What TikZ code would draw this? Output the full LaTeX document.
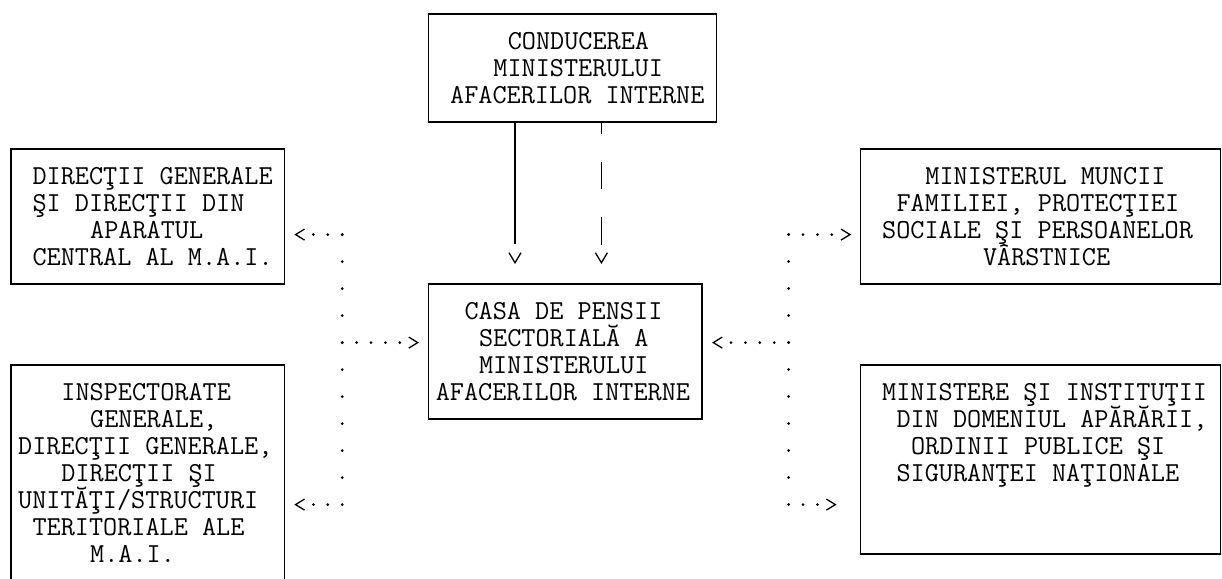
\documentclass[tikz,border=0pt]{standalone}
\usepackage{fontspec}
\usetikzlibrary{arrows.meta}
\tikzset{
  txt/.style={anchor=base west, inner sep=0pt, outer sep=0pt, yshift=-8pt,
    font=\ttfamily\fontsize{27.43}{27}\selectfont},
  box/.style={draw, line width=1.6pt, inner sep=0pt, outer sep=0pt},
  hdots/.style={line width=3pt, line cap=round,
    -{Straight Barb[length=9pt,width=11pt,line width=1.3pt 0]}},
  vbus/.style={line width=3pt, line cap=round, dash pattern=on 0pt off 27pt},
  dthree/.style={dash pattern=on 0pt off 14.4pt on 0pt off 14.4pt on 0pt off 400pt},
  dfour/.style={dash pattern=on 0pt off 14.4pt on 0pt off 14.4pt on 0pt off 14.4pt on 0pt off 400pt},
  dfive/.style={dash pattern=on 0pt off 14.4pt on 0pt off 14.4pt on 0pt off 14.4pt on 0pt off 14.4pt on 0pt off 400pt},
  vconn/.style={line width=1.6pt, shorten >=20pt,
    -{Straight Barb[length=10pt,width=12pt,line width=1.3pt 0]}},
}
\newcommand\txtline[4]{\node[txt] (#1) at ({#2-0.5},#3) {#4};}
\begin{document}
\begin{tikzpicture}[x=14.4pt,y=-27pt]
\useasboundingbox (0pt,0pt) rectangle (1222pt,-578pt);
\clip (0pt,0pt) rectangle (1222pt,-578pt);
\begin{scope}[xshift=11pt,yshift=-14pt]
% boxes
\node[box, minimum width=288pt, minimum height=108pt] (cmai) at (39,2) {};
\node[box, minimum width=273.6pt, minimum height=135pt] (dg) at (9.5,7.5) {};
\node[box, minimum width=273.6pt, minimum height=135pt] (casa) at (38.5,12.5) {};
\node[box, minimum width=273.6pt, minimum height=216pt] (insp) at (9.5,17) {};
\node[box, minimum width=360pt, minimum height=135pt] (mm) at (71.5,7.5) {};
\node[box, minimum width=360pt, minimum height=189pt] (mi) at (71.5,16.5) {};
% texts
\txtline{t1}{35}{1}{CONDUCEREA}
\txtline{t2}{34}{2}{MINISTERULUI}
\txtline{t3}{31}{3}{AFACERILOR INTERNE}
\txtline{d1}{2}{6}{DIRECŢII GENERALE}
\txtline{d2}{2}{7}{ŞI DIRECŢII DIN}
\txtline{d3}{6}{8}{APARATUL}
\txtline{d4}{2}{9}{CENTRAL AL M.A.I.}
\txtline{c1}{32}{11}{CASA DE PENSII}
\txtline{c2}{33}{12}{SECTORIALĂ A}
\txtline{c3}{33}{13}{MINISTERULUI}
\txtline{c4}{30}{14}{AFACERILOR INTERNE}
\txtline{m1}{64}{6}{MINISTERUL MUNCII}
\txtline{m2}{62}{7}{FAMILIEI, PROTECŢIEI}
\txtline{m3}{61}{8}{SOCIALE ŞI PERSOANELOR}
\txtline{m4}{68}{9}{VÂRSTNICE}
\txtline{i1}{4}{14}{INSPECTORATE}
\txtline{i2}{6}{15}{GENERALE,}
\txtline{i3}{1}{16}{DIRECŢII GENERALE,}
\txtline{i4}{4}{17}{DIRECŢII ŞI}
\txtline{i5}{1}{18}{UNITĂŢI/STRUCTURI}
\txtline{i6}{2}{19}{TERITORIALE ALE}
\txtline{i7}{6}{20}{M.A.I.}
\txtline{n1}{61}{14}{MINISTERE ŞI INSTITUŢII}
\txtline{n2}{62}{15}{DIN DOMENIUL APĂRĂRII,}
\txtline{n3}{63}{16}{ORDINII PUBLICE ŞI}
\txtline{n4}{62}{17}{SIGURANŢEI NAŢIONALE}
% bus coordinates
\coordinate (bl8) at (23,8.17);
\coordinate (bl12) at (23,12.17);
\coordinate (bl18) at (23,18.17);
\coordinate (br8) at (54,8.17);
\coordinate (br12) at (54,12.17);
\coordinate (br18) at (54,18.17);
\coordinate (c35) at (35,0);
\coordinate (c41) at (41,0);
% vertical connectors from the top box
\draw[vconn, dash pattern=on 122pt off 100pt] (cmai.south -| c35) -- (casa.north -| c35);
\draw[vconn, dash pattern=on 12pt off 28pt on 27pt off 28pt on 28pt off 100pt] (cmai.south -| c41) -- (casa.north -| c41);
% dotted buses
\draw[vbus] (bl8) -- (bl18);
\draw[vbus] (br8) -- (br18);
\draw[hdots, dthree, shorten >=9.7pt] (bl8) -- (dg.east |- bl8);
\draw[hdots, dfive, shorten >=9.6pt] (bl12) -- (casa.west |- bl12);
\draw[hdots, dthree, shorten >=9.7pt] (bl18) -- (insp.east |- bl18);
\draw[hdots, dfour, shorten >=9.4pt] (br8) -- (mm.west |- br8);
\draw[hdots, dfive, shorten >=9.8pt] (br12) -- (casa.east |- br12);
\draw[hdots, dthree, shorten >=24pt] (br18) -- (mi.west |- br18);
\end{scope}
\end{tikzpicture}
\end{document}
